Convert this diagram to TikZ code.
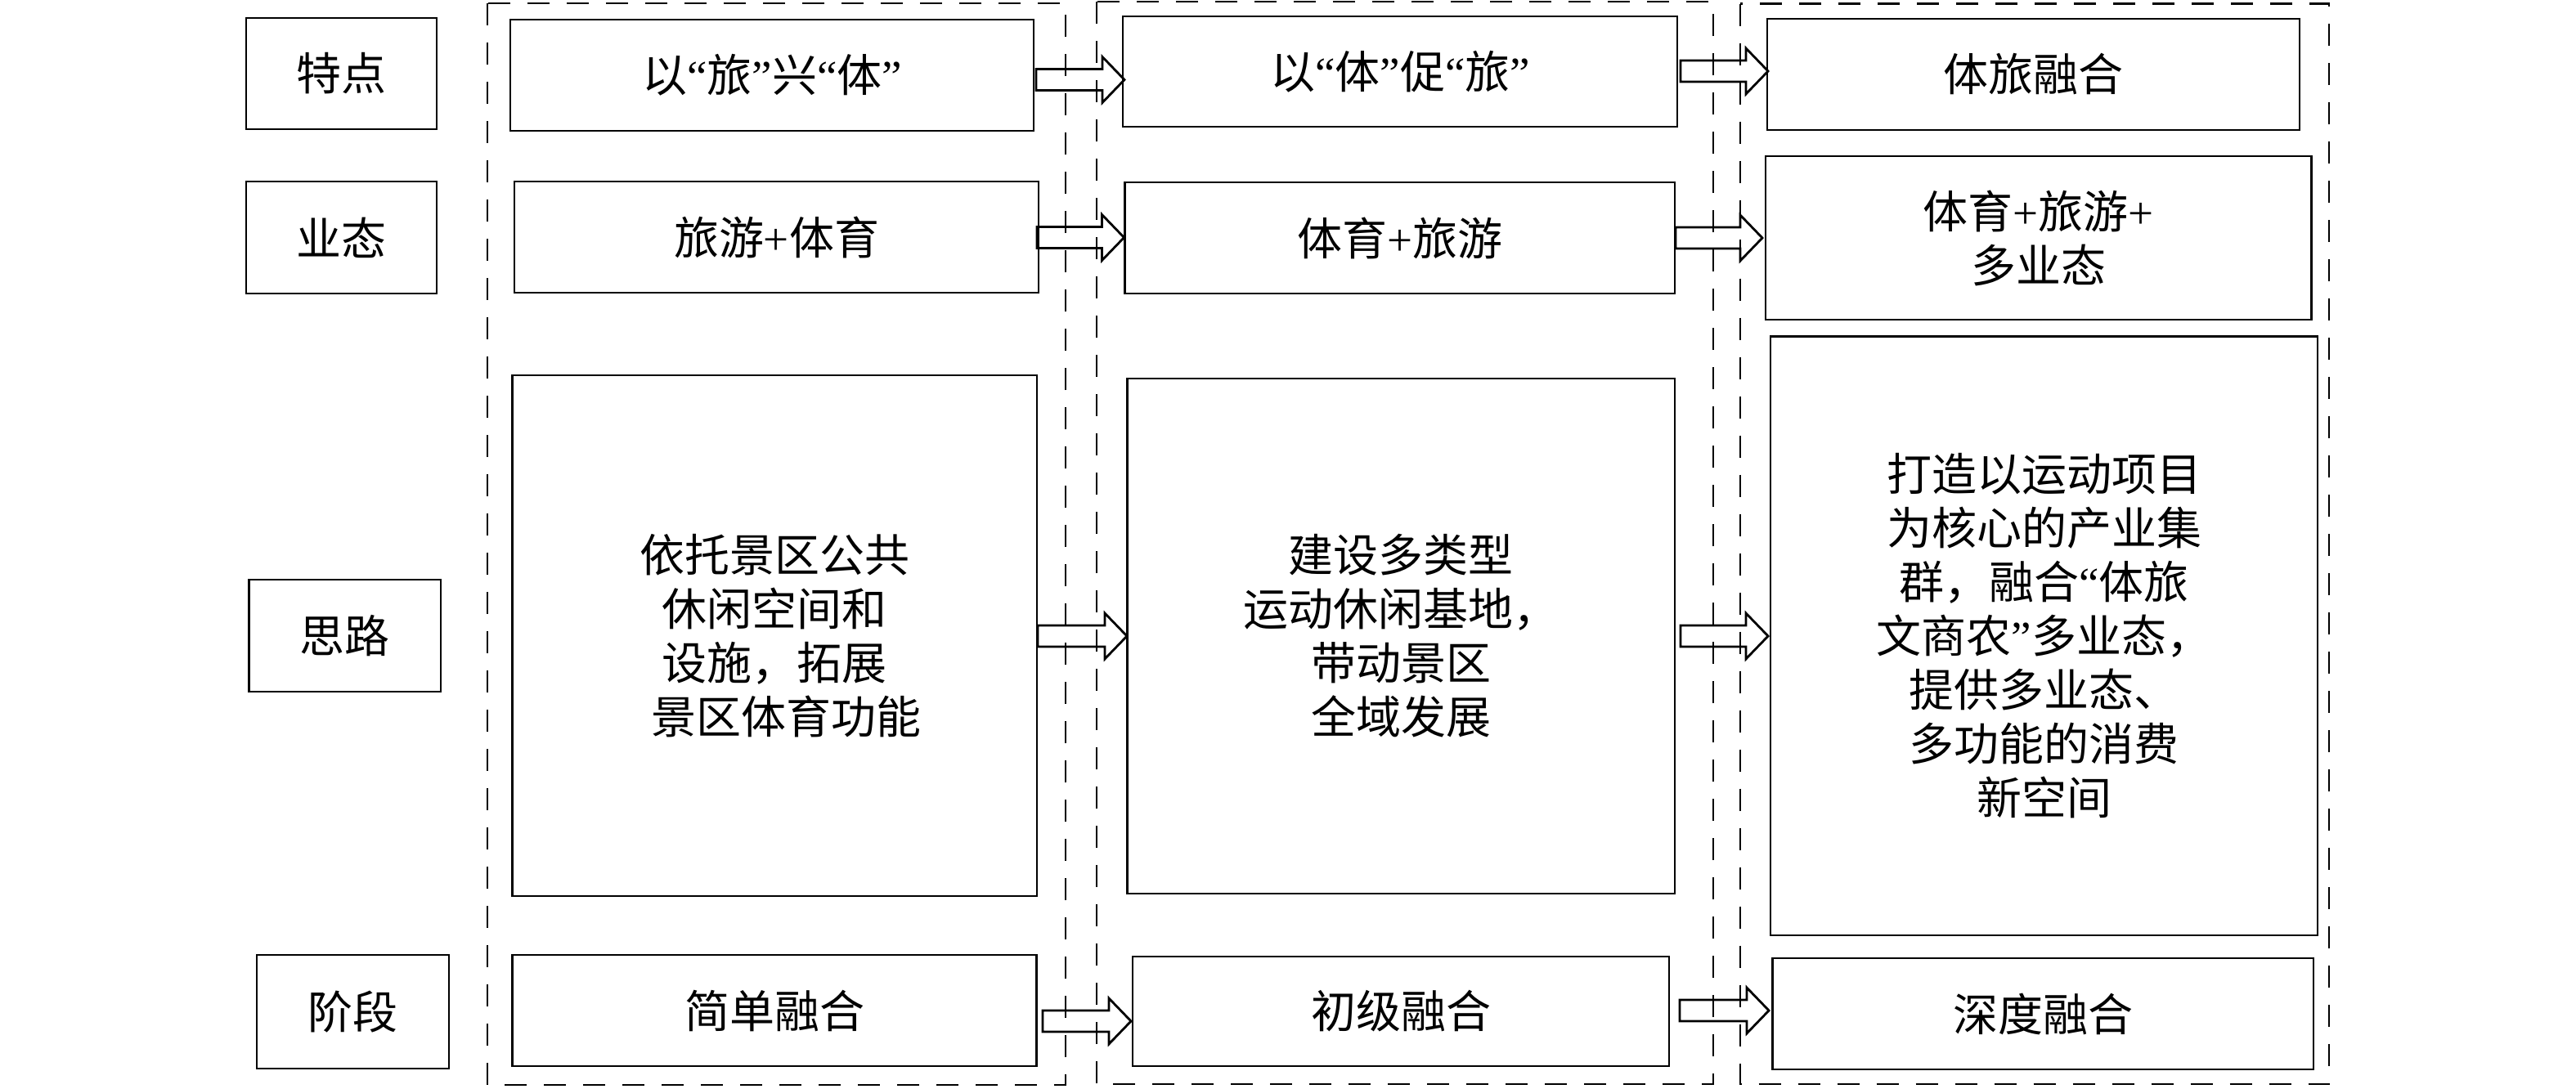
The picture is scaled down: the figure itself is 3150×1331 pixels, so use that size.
\documentclass[tikz,border=0pt]{standalone}
\usepackage{fontspec}
\newfontfamily\cjk{Noto Sans CJK SC}
\newfontfamily\qf{Liberation Serif}
\newcommand\oq{{\qf “}}
\newcommand\cq{{\qf ”}}
\newcommand\pl{{\qf +}}
\usetikzlibrary{calc}
\tikzset{
  box/.style={draw, line width=0.7pt, inner sep=0pt, align=center,
    font=\cjk\fontsize{13.75pt}{16.5pt}\selectfont},
  wh/.style 2 args={minimum width=#1*0.25pt, minimum height=#2*0.25pt},
  dsh/.style={draw, line width=0.65pt, dash pattern=on 6.75pt off 5.25pt},
  barr/.style={draw, line width=0.7pt, miter limit=10}
}
\newcommand\blockarr[2]{\draw[barr] let \p1=(#1), \p2=(#2) in
  (\x1,\y2+3.25pt) -- (\x2-6.75pt,\y2+3.25pt) -- (\x2-6.75pt,\y2+7pt) --
  (\x2,\y2) -- (\x2-6.75pt,\y2-7pt) -- (\x2-6.75pt,\y2-3.25pt) --
  (\x1,\y2-3.25pt) -- cycle;}
\begin{document}
\begin{tikzpicture}[x=0.25pt, y=-0.25pt]
\useasboundingbox (0,0) rectangle (3150,1331);
% dashed stage columns
\draw[dsh] (596,4) rectangle (1303,1327);
\draw[dsh] (1341,2) rectangle (2095,1326);
\draw[dsh] (2128,4.5) rectangle (2848,1326);
% row labels
\node[box, wh={233}{136}] (L1) at (417.5,90) {特点};
\node[box, wh={233}{137}] (L2) at (417.5,290.5) {业态};
\node[box, wh={234.5}{137}] (L3) at (421.75,777.5) {思路};
\node[box, wh={235}{139}] (L4) at (431.5,1237.5) {阶段};
% column 1
\node[box, wh={640}{136}] (a1) at (944,92) {以\oq 旅\cq 兴\oq 体\cq};
\node[box, wh={641}{136}] (a2) at (949.5,290) {旅游\pl 体育};
\node[box, wh={641.5}{637}] (a3) at (947.25,777.5) {依托景区公共\\休闲空间和\\设施，拓展\\\hspace*{0.5em}景区体育功能};
\node[box, wh={641}{136}] (a4) at (947,1236) {简单融合};
% column 2
\node[box, wh={678}{135}] (b1) at (1712,87.5) {以\oq 体\cq 促\oq 旅\cq};
\node[box, wh={672.5}{136}] (b2) at (1711.75,291) {体育\pl 旅游};
\node[box, wh={669.4}{630}] (b3) at (1713.3,778) {建设多类型\\运动休闲基地，\\带动景区\\全域发展};
\node[box, wh={656}{134}] (b4) at (1713,1237) {初级融合};
% column 3
\node[box, wh={651}{136}] (c1) at (2486.5,91) {体旅融合};
\node[box, wh={667.5}{200}] (c2) at (2492.75,291) {体育\pl 旅游\pl\\多业态};
\node[box, wh={669}{732.5}] (c3) at (2499.5,777.75) {打造以运动项目\\为核心的产业集\\群，融合\oq 体旅\\文商农\cq 多业态，\\提供多业态、\\多功能的消费\\新空间};
\node[box, wh={661.5}{136}] (c4) at (2498.25,1240) {深度融合};
% arrow ends
\coordinate (r1s) at (1267,97.5); \coordinate (r1t) at (1375,97.5);
\coordinate (r1u) at (2055,87);   \coordinate (r1v) at (2162,87);
\coordinate (r2s) at (1268,290.5); \coordinate (r2t) at (1374.5,290.5);
\coordinate (r2u) at (2049,291);  \coordinate (r2v) at (2155,291);
\coordinate (r3s) at (1269,778);  \coordinate (r3t) at (1378,778);
\coordinate (r3u) at (2055,778);  \coordinate (r3v) at (2162,778);
\coordinate (r4s) at (1275,1249); \coordinate (r4t) at (1383,1249);
\coordinate (r4u) at (2054,1236); \coordinate (r4v) at (2163,1236);
\blockarr{r1s}{r1t}
\blockarr{r1u}{r1v}
\blockarr{r2s}{r2t}
\blockarr{r2u}{r2v}
\blockarr{r3s}{r3t}
\blockarr{r3u}{r3v}
\blockarr{r4s}{r4t}
\blockarr{r4u}{r4v}
\end{tikzpicture}
\end{document}
